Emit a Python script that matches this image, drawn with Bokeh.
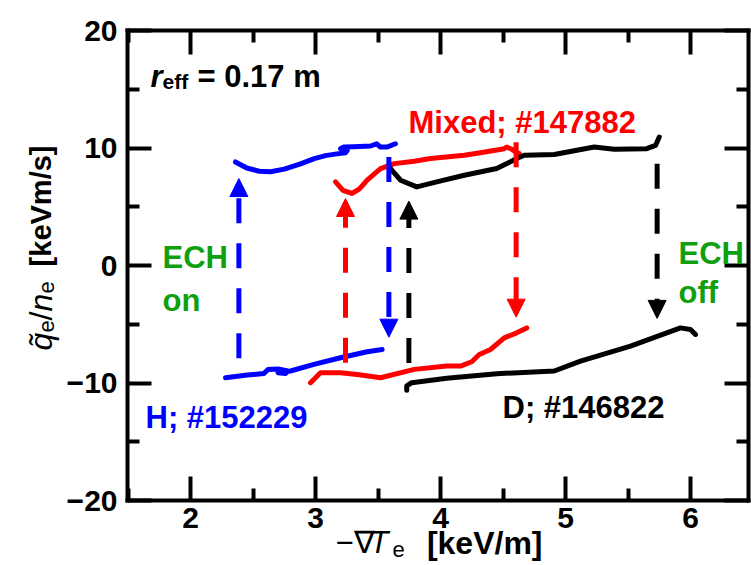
from bokeh.plotting import figure
from bokeh.models import (Range1d, LinearAxis, FixedTicker, Label, Arrow, NormalHead)
from bokeh.core.properties import value
from bokeh.embed import file_html
from bokeh.resources import INLINE

# ---------------- data ----------------
x_ticks = [2, 3, 4, 5, 6]
x_minor = [1.5, 2.5, 3.5, 4.5, 5.5, 6.5]
y_ticks = [-20, -10, 0, 10, 20]
y_minor = [-15, -5, 5, 15]
y_tick_labels = {-20: "\u221220", -10: "\u221210", 0: "0", 10: "10", 20: "20"}

# H; #152229 (blue)
h_up_x = [2.36, 2.45, 2.55, 2.64, 2.75, 2.88, 2.99, 3.08, 3.17, 3.24, 3.254, 3.2, 3.226, 3.306, 3.44, 3.49, 3.52, 3.57, 3.64]
h_up_y = [8.81, 8.3, 8.02, 7.98, 8.2, 8.65, 9.1, 9.35, 9.5, 9.6, 9.8, 9.94, 10.08, 10.11, 10.17, 10.36, 10.08, 10.08, 10.36]
h_dn_x = [2.28, 2.454, 2.587, 2.62, 2.70, 2.78, 2.76, 2.70, 2.80, 2.987, 3.2, 3.413, 3.533]
h_dn_y = [-9.55, -9.32, -9.2, -8.85, -8.8, -8.98, -9.2, -9.12, -8.98, -8.42, -7.85, -7.34, -7.15]

# Mixed; #147882 (red)
m_up_x = [3.16, 3.22, 3.29, 3.35, 3.413, 3.52, 3.63, 3.79, 3.92, 4.19, 4.32, 4.51, 4.53, 4.57, 4.6, 4.63]
m_up_y = [7.12, 6.4, 6.13, 6.5, 7.26, 8.25, 8.67, 8.87, 9.1, 9.38, 9.6, 9.94, 10.08, 9.89, 9.66, 9.52]
m_dn_x = [2.96, 3.04, 3.2, 3.35, 3.52, 3.79, 4.05, 4.16, 4.25, 4.31, 4.4, 4.51, 4.61, 4.69]
m_dn_y = [-9.97, -9.12, -9.12, -9.3, -9.55, -8.84, -8.56, -8.56, -8.19, -7.57, -7.15, -6.16, -5.73, -5.31]

# D; #146822 (black)
d_up_x = [3.6, 3.68, 3.81, 3.97, 4.19, 4.45, 4.61, 4.67, 4.91, 5.23, 5.39, 5.65, 5.72, 5.75]
d_up_y = [8.25, 7.26, 6.69, 7.12, 7.68, 8.25, 9.1, 9.38, 9.44, 10.08, 9.89, 9.94, 10.22, 10.93]
d_dn_x = [3.73, 3.73, 3.77, 4.05, 4.45, 4.91, 5.12, 5.52, 5.92, 6.0, 6.04]
d_dn_y = [-10.62, -10.25, -9.97, -9.6, -9.21, -8.98, -8.14, -6.86, -5.31, -5.45, -5.87]

# transition arrows
arrow_x = [2.387, 3.587, 3.24, 3.747, 4.605, 5.733]
arrow_y0 = [-7.9, 9.24, -8.28, -8.3, 10.5, 8.67]
arrow_y1 = [7.4, -6.1, 5.7, 5.48, -4.4, -4.5]

BLUE = "#0000ff"
RED = "#ff0000"
BLACK = "#000000"
GREEN = "#0f9f0f"
arrow_color = [BLUE, BLUE, RED, BLACK, RED, BLACK]

FONT = "Liberation Sans"
X0, X1 = 1.496, 6.464
Y0, Y1 = -20, 20

# ---------------- figure ----------------
p = figure(width=751, height=565, output_backend="svg", toolbar_location=None,
           x_range=Range1d(X0, X1), y_range=Range1d(Y0, Y1),
           min_border_left=127, min_border_right=3, min_border_top=30, min_border_bottom=65)
p.outline_line_color = None
p.xgrid.visible = False
p.ygrid.visible = False
p.background_fill_color = "white"
p.border_fill_color = "white"


def style_axis(ax, major, minor, show_labels, standoff=0, overrides=None):
    ax.ticker = FixedTicker(ticks=major, minor_ticks=minor)
    ax.axis_line_width = 4
    ax.axis_line_color = "black"
    ax.axis_line_cap = "square"
    ax.major_tick_in = 24
    ax.major_tick_out = 0
    ax.minor_tick_in = 12
    ax.minor_tick_out = 0
    ax.major_tick_line_width = 4
    ax.minor_tick_line_width = 4
    ax.major_tick_line_color = "black"
    ax.minor_tick_line_color = "black"
    ax.major_label_text_font = FONT
    ax.major_label_text_font_style = "bold"
    ax.major_label_text_font_size = "30px"
    ax.major_label_text_color = "black"
    ax.major_label_standoff = standoff
    if overrides is not None:
        ax.major_label_overrides = overrides
    if not show_labels:
        ax.major_label_overrides = {t: "" for t in major}
        ax.major_label_text_font_size = "0px"


style_axis(p.xaxis[0], x_ticks, x_minor, True, standoff=7)
style_axis(p.yaxis[0], y_ticks, y_minor, True, standoff=10, overrides=y_tick_labels)

top_ax = LinearAxis()
style_axis(top_ax, x_ticks, x_minor, False)
p.add_layout(top_ax, "above")
right_ax = LinearAxis()
style_axis(right_ax, y_ticks, y_minor, False)
p.add_layout(right_ax, "right")

# ---------------- curves ----------------
for xs, ys, c in [(h_up_x, h_up_y, BLUE), (h_dn_x, h_dn_y, BLUE),
                  (m_up_x, m_up_y, RED), (m_dn_x, m_dn_y, RED),
                  (d_up_x, d_up_y, BLACK), (d_dn_x, d_dn_y, BLACK)]:
    p.line(xs, ys, line_color=c, line_width=5, line_join="round", line_cap="round")

# ---------------- arrows ----------------
for ax_, y0, y1, c in zip(arrow_x, arrow_y0, arrow_y1, arrow_color):
    p.add_layout(Arrow(x_start=ax_, y_start=y0, x_end=ax_, y_end=y1,
                       line_color=c, line_width=5, line_dash="25 20",
                       end=NormalHead(size=18, fill_color=c, line_color=c, line_width=1)))

# ---------------- texts inside the frame ----------------
def lab(text, sx, sy, size, color="black", style="bold", angle=0, align="left"):
    p.add_layout(Label(x=sx, y=sy, x_units="screen", y_units="screen", text=text,
                       text_font=FONT, text_font_size=f"{size}px", text_font_style=style,
                       text_color=color, angle=angle, angle_units="deg",
                       text_align=align, text_baseline="alphabetic"))

lab("Mixed; #147882", 281, 378, 31, RED)
lab("H; #152229", 18, 83, 31, BLUE)
lab("D; #146822", 375, 93, 31, BLACK)
lab("ECH", 35, 243, 31, GREEN)
lab("on", 35, 200, 31, GREEN)
lab("ECH", 551, 247, 31, GREEN)
lab("off", 551, 208, 31, GREEN)

lab("r", 23, 424, 31, BLACK, style="bold italic")
lab("eff", 35, 419, 21, BLACK)
lab("= 0.17 m", 70, 424, 31, BLACK)


# ---------------- axis titles (text glyphs drawn outside the frame) ----------------
def px2x(px):
    return X0 + (px - 127) / 125.0


def py2y(py):
    return Y1 - (py - 30) / 11.75


def gtext(text, px, py, size, style="bold", angle=0, align="left"):
    p.text(x=[px2x(px)], y=[py2y(py)], text=[text], text_font=value(FONT),
           text_font_size=value(f"{size}px"), text_font_style=style,
           text_color="black", angle=angle, angle_units="deg",
           text_align=align, text_baseline="alphabetic", level="overlay")

# x-axis title: -∇T_e [keV/m]
gtext("\u2212\u2207", 335, 542, 31, style="normal")
gtext("T", 369, 542, 31, style="italic")
gtext("e", 392, 549, 22, style="normal")
gtext("[keV/m]", 542, 542, 32, align="right")

# y-axis title: q~_e/n_e [keVm/s]
gtext("q\u0303", 40, 350, 32, style="italic", angle=90)
gtext("e", 46, 332, 22, style="normal", angle=90)
gtext("/", 40, 320, 32, style="normal", angle=90)
gtext("n", 40, 311, 32, style="italic", angle=90)
gtext("e", 46, 293, 22, style="normal", angle=90)
gtext("[keVm/s]", 40, 145, 29, angle=90, align="right")

open("out.html", "w").write(file_html(p, INLINE))
